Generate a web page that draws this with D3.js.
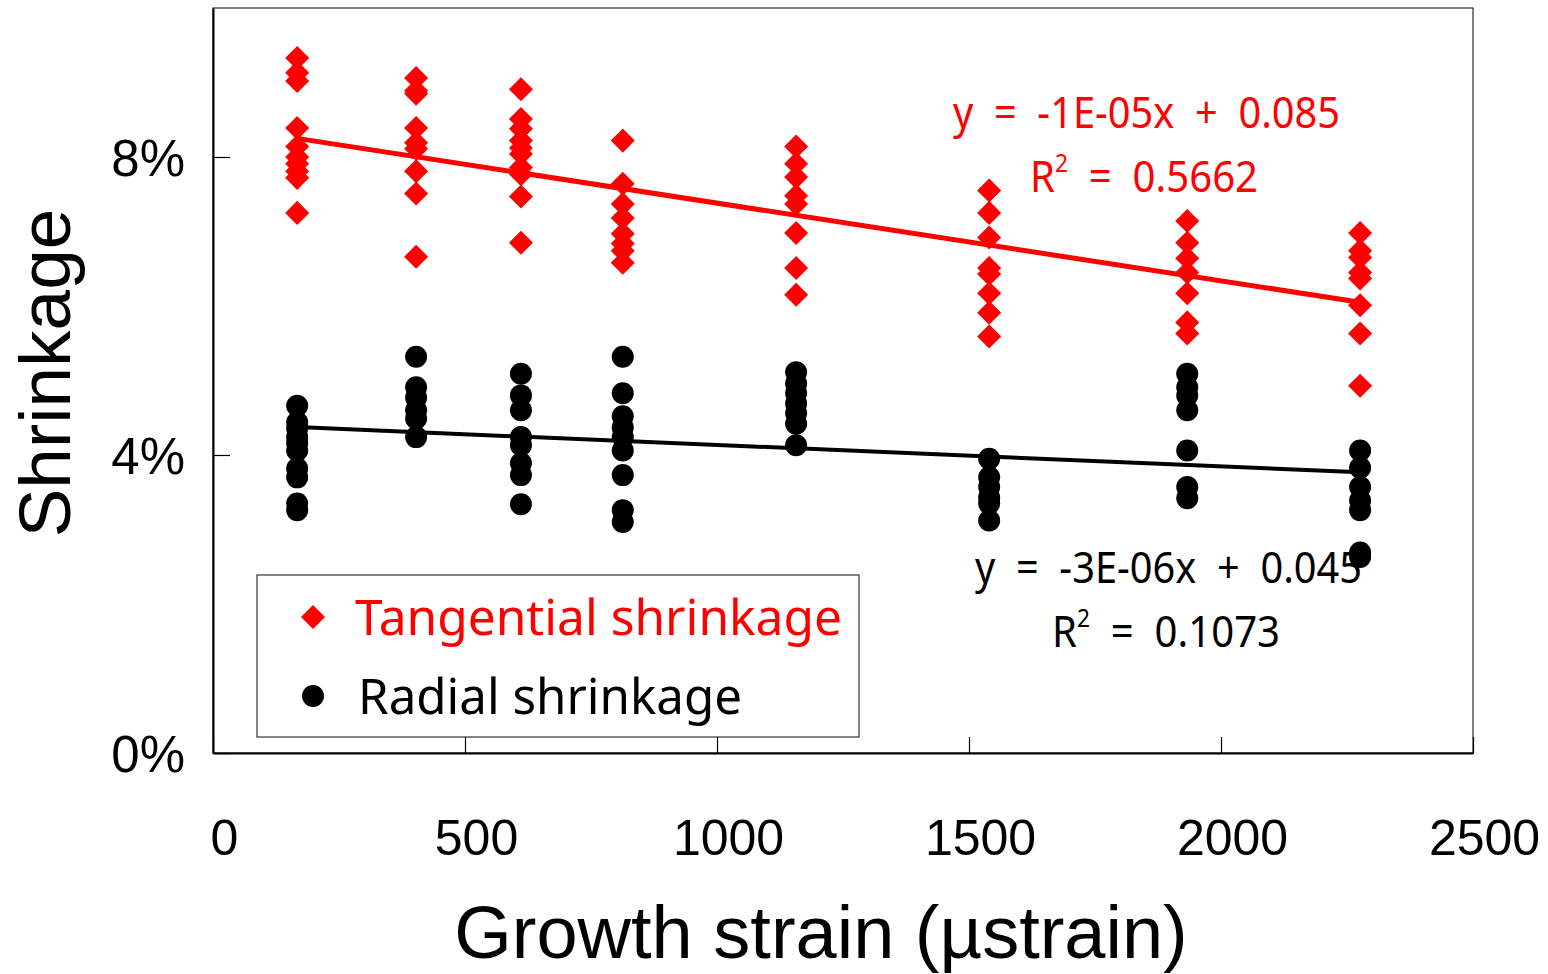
<!DOCTYPE html>
<html>
<head>
<meta charset="utf-8">
<script src="https://cdn.jsdelivr.net/npm/d3@7"></script>
<style>
  html, body { margin: 0; padding: 0; background: #fff; }
  svg { display: block; }
  .pre { white-space: pre; }
</style>
</head>
<body>
<svg id="chart" width="1548" height="974"></svg>
<script>
// ---- data (fractions) ----
const strainColumns = [167, 403, 611, 813, 1157, 1540, 1933, 2276];
const tangential = [
  [0.0933, 0.0913, 0.0902, 0.0839, 0.0814, 0.0800, 0.0791, 0.0781, 0.0772, 0.0725],
  [0.0906, 0.0889, 0.0885, 0.0839, 0.0819, 0.0811, 0.0781, 0.0751, 0.0666],
  [0.0891, 0.0851, 0.0838, 0.0822, 0.0812, 0.0804, 0.0786, 0.0777, 0.0747, 0.0685],
  [0.0822, 0.0764, 0.0737, 0.0718, 0.0697, 0.0684, 0.0674, 0.0658],
  [0.0814, 0.0791, 0.0773, 0.0748, 0.0737, 0.0698, 0.0651, 0.0615],
  [0.0755, 0.0725, 0.0692, 0.0651, 0.0643, 0.0617, 0.0591, 0.0559],
  [0.0714, 0.0685, 0.0664, 0.0645, 0.0617, 0.0578, 0.0563],
  [0.0698, 0.0674, 0.0665, 0.0645, 0.0637, 0.0601, 0.0563, 0.0493]
];
const radial = [
  [0.0466, 0.0444, 0.0436, 0.0424, 0.0416, 0.0406, 0.0382, 0.0370, 0.0335, 0.0326],
  [0.0532, 0.0491, 0.0477, 0.0460, 0.0449, 0.0424],
  [0.0509, 0.0480, 0.0460, 0.0424, 0.0413, 0.0389, 0.0373, 0.0334],
  [0.0532, 0.0483, 0.0452, 0.0437, 0.0424, 0.0406, 0.0373, 0.0326, 0.0310],
  [0.0511, 0.0496, 0.0483, 0.0469, 0.0456, 0.0442, 0.0413],
  [0.0395, 0.0370, 0.0357, 0.0343, 0.0335, 0.0312],
  [0.0509, 0.0491, 0.0480, 0.0460, 0.0406, 0.0357, 0.0342],
  [0.0406, 0.0383, 0.0357, 0.0339, 0.0326, 0.0269, 0.0263]
];
// trend line coefficients [slope, intercept] as drawn
const tangentialFit = [-1.043e-5, 0.08424];
const radialFit = [-2.88e-6, 0.04423];
const xTicks = [0, 500, 1000, 1500, 2000, 2500];
const yTicks = [0, 0.04, 0.08];
const seriesNames = ["Tangential shrinkage", "Radial shrinkage"];
const equations = [
  ["y  =  -1E-05x  +  0.085", "0.5662"],
  ["y  =  -3E-06x  +  0.045", "0.1073"]
];

// ---- layout ----
const svg = d3.select("#chart");
const L = 213, R = 1473, T = 8, B = 753;
const x = d3.scaleLinear().domain([0, 2500]).range([L, R]);
const y = d3.scaleLinear().domain([0, 0.10]).range([B, T]);
const RED = "#ff0000";
const tickFont = "'Liberation Sans', Arial, sans-serif";
const labelFont = "'Noto Sans', 'DejaVu Sans', sans-serif";

// frame
svg.append("rect").attr("x", L).attr("y", T).attr("width", R - L).attr("height", B - T)
  .attr("fill", "none").attr("stroke", "#000").attr("stroke-width", 1);

// x axis (ticks inside)
const xAxis = d3.axisBottom(x).tickValues(xTicks).tickSizeInner(-16).tickSizeOuter(0)
  .tickFormat(d3.format("d"));
const gx = svg.append("g").attr("transform", `translate(0,${B})`).call(xAxis);
gx.select(".domain").attr("stroke", "#000").attr("stroke-width", 2);
gx.selectAll(".tick line").attr("stroke", "#000").attr("stroke-width", 1.2);
gx.selectAll(".tick text").attr("font-family", tickFont).attr("font-size", 50)
  .attr("fill", "#000").attr("y", 0).attr("dy", 102).attr("dx", 11);

// y axis (ticks inside)
const yAxis = d3.axisLeft(y).tickValues(yTicks).tickSizeInner(-17).tickSizeOuter(0)
  .tickFormat(d3.format(".0%"));
const gy = svg.append("g").attr("transform", `translate(${L},0)`).call(yAxis);
gy.select(".domain").attr("stroke", "#000").attr("stroke-width", 2);
gy.selectAll(".tick line").attr("stroke", "#000").attr("stroke-width", 1.2);
gy.selectAll(".tick text").attr("font-family", tickFont).attr("font-size", 51)
  .attr("fill", "#000").attr("x", -28).attr("dy", "0.36em");

// axis titles
svg.append("text").attr("x", 821).attr("y", 958).attr("text-anchor", "middle")
  .attr("font-family", tickFont).attr("font-size", 74).attr("fill", "#000")
  .text("Growth strain (µstrain)");
svg.append("text").attr("transform", `translate(70,373) rotate(-90)`).attr("text-anchor", "middle")
  .attr("font-family", tickFont).attr("font-size", 73).attr("fill", "#000")
  .text("Shrinkage");

// points
const flat = (arr) => arr.flatMap((col, i) => col.map(v => ({ x: strainColumns[i], y: v })));
const tanPts = flat(tangential);
const radPts = flat(radial);
const diamond = d3.symbol().type(d3.symbolSquare).size(17 * 17);

svg.append("g").selectAll("path").data(tanPts).join("path")
  .attr("d", diamond)
  .attr("transform", d => `translate(${x(d.x)},${y(d.y)}) rotate(45)`)
  .attr("fill", RED);

svg.append("g").selectAll("circle").data(radPts).join("circle")
  .attr("cx", d => x(d.x)).attr("cy", d => y(d.y)).attr("r", 11).attr("fill", "#000");

// trend lines
const xMin = d3.min(strainColumns), xMax = d3.max(strainColumns);
const line = d3.line().x(d => x(d[0])).y(d => y(d[1]));
[[tangentialFit, RED, 5], [radialFit, "#000", 4]].forEach(([f, c, w]) => {
  const pts = [xMin, xMax].map(v => [v, f[0] * v + f[1]]);
  svg.append("path").attr("d", line(pts)).attr("fill", "none")
    .attr("stroke", c).attr("stroke-width", w);
});

// equations
function eqBlock(lines, color, x1, y1, w1, x2, y2, w2) {
  svg.append("text").attr("class", "pre").attr("x", x1).attr("y", y1).attr("font-family", labelFont)
    .attr("font-size", 44).attr("fill", color)
    .attr("textLength", w1).attr("lengthAdjust", "spacingAndGlyphs")
    .text(lines[0]);
  const t = svg.append("text").attr("class", "pre").attr("x", x2).attr("y", y2).attr("font-family", labelFont)
    .attr("font-size", 44).attr("fill", color).attr("textLength", w2).attr("lengthAdjust", "spacingAndGlyphs");
  t.append("tspan").text("R");
  t.append("tspan").attr("font-size", 25).attr("dy", -20).text("2");
  t.append("tspan").attr("dy", 20).text("  =  " + lines[1]);
}
eqBlock(equations[0], RED, 953, 128, 387, 1030, 192, 228);
eqBlock(equations[1], "#000", 975, 583, 387, 1052, 647, 228);

// legend
const lg = svg.append("g");
lg.append("rect").attr("x", 257).attr("y", 575).attr("width", 602).attr("height", 162)
  .attr("fill", "#fff").attr("stroke", "#333").attr("stroke-width", 1.2);
lg.append("path").attr("d", diamond).attr("transform", "translate(313,617) rotate(45)").attr("fill", RED);
lg.append("circle").attr("cx", 313).attr("cy", 696).attr("r", 11).attr("fill", "#000");
lg.append("text").attr("x", 355).attr("y", 635).attr("font-family", labelFont).attr("font-size", 50)
  .attr("fill", RED).attr("textLength", 487).attr("lengthAdjust", "spacingAndGlyphs").text(seriesNames[0]);
lg.append("text").attr("x", 358).attr("y", 714).attr("font-family", labelFont).attr("font-size", 50)
  .attr("fill", "#000").attr("textLength", 384).attr("lengthAdjust", "spacingAndGlyphs").text(seriesNames[1]);
</script>
</body>
</html>
